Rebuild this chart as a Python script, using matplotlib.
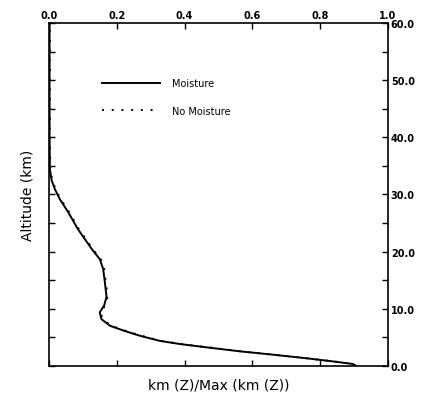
import numpy as np
import matplotlib.pyplot as plt

# Altitude (km) and normalised km(Z) profiles
altitude = [0.0, 0.35, 0.87, 1.35, 1.98, 2.57, 3.27, 3.85, 4.4, 5.3, 6.2, 7.05,
            8.2, 9.4, 10.6, 12.1, 14.7, 17.0, 18.7, 20.5, 23.9, 26.9, 29.2,
            30.9, 32.5, 34.4, 40.0, 50.0, 60.0]
moisture = [0.905, 0.897, 0.829, 0.76, 0.661, 0.563, 0.465, 0.386, 0.327, 0.268,
            0.22, 0.18, 0.155, 0.15, 0.163, 0.17, 0.165, 0.16, 0.15, 0.126,
            0.086, 0.057, 0.032, 0.018, 0.008, 0.003, 0.002, 0.002, 0.002]
no_moisture = [0.905, 0.899, 0.832, 0.764, 0.665, 0.567, 0.469, 0.39, 0.331, 0.272,
               0.224, 0.184, 0.158, 0.153, 0.166, 0.173, 0.168, 0.163, 0.153, 0.129,
               0.089, 0.06, 0.035, 0.02, 0.01, 0.004, 0.003, 0.003, 0.003]

x_ticks = [0.0, 0.2, 0.4, 0.6, 0.8, 1.0]
y_ticks = [0, 10, 20, 30, 40, 50, 60]

fig = plt.figure(figsize=(4.25, 4.06), dpi=100)
ax = fig.add_axes([0.115, 0.096, 0.798, 0.845])

ax.plot(moisture, altitude, color='black', lw=1.4, label='Moisture')
ax.plot(no_moisture, altitude, color='black', lw=1.4, ls=(0, (1, 4)),
        label='No Moisture')

ax.set_xlim(0, 1.0)
ax.set_ylim(0, 60)

ax.set_xticks(x_ticks)
ax.set_xticklabels([f'{v:.1f}' for v in x_ticks], fontsize=7, fontweight='bold')
ax.set_yticks(y_ticks)
ax.set_yticklabels([f'{v:.1f}' for v in y_ticks], fontsize=7, fontweight='bold')
ax.set_yticks(np.arange(0, 61, 5), minor=True)

ax.tick_params(axis='both', which='both', direction='in', top=True, bottom=True,
               left=True, right=True, labeltop=True, labelbottom=False,
               labelleft=False, labelright=True, length=4, width=1, pad=2)
ax.tick_params(axis='y', which='minor', length=4)

for s in ax.spines.values():
    s.set_linewidth(1.2)

ax.set_xlabel('km (Z)/Max (km (Z))', fontsize=10, labelpad=8)
ax.set_ylabel('Altitude (km)', fontsize=10, labelpad=10)

ax.legend(loc='upper left', bbox_to_anchor=(0.13, 0.865), frameon=False,
          fontsize=7, handlelength=6, handletextpad=1.2, labelspacing=1.8)

fig.savefig('out.png', dpi=100)
